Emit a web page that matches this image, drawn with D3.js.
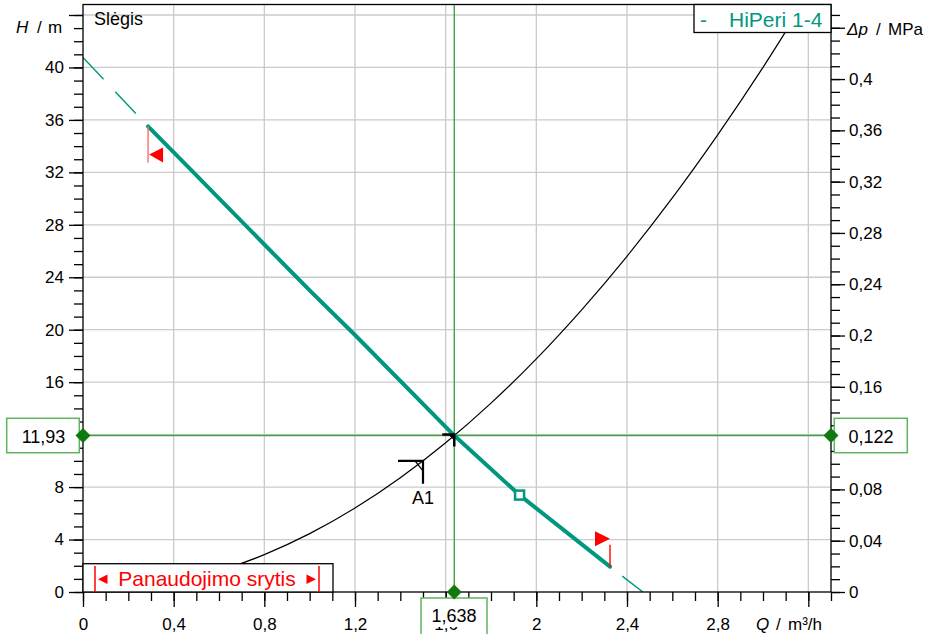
<!DOCTYPE html>
<html>
<head>
<meta charset="utf-8">
<script src="https://cdn.jsdelivr.net/npm/d3@7/dist/d3.min.js"></script>
<style>
  html, body { margin: 0; padding: 0; background: #fff; }
  svg { display: block; font-family: "Liberation Sans", Arial, sans-serif; }
</style>
</head>
<body>
<svg id="chart" width="929" height="634"></svg>
<script>
// Pump curve (Q in m³/h, H in m), solid working range
const pumpQ = [0.287, 0.47, 0.8, 1.0, 1.2, 1.638, 1.926, 2.325];
const pumpH = [35.5, 32.3, 26.5, 23.0, 19.6, 11.93, 7.39, 1.93];
// Dashed continuation outside the working range
const pumpLeftQ = [0, 0.287];
const pumpLeftH = [40.76, 35.5];
const pumpRightQ = [2.325, 2.47];
const pumpRightH = [1.93, 0];

// System (pipe network) curve
const systemQ = [0, 0.2, 0.4, 0.6, 0.8, 1.0, 1.2, 1.4, 1.6, 1.8, 2.0, 2.2, 2.4, 2.6, 2.8, 3.0, 3.17];
const systemH = [0, 0.18, 0.71, 1.6, 2.85, 4.45, 6.4, 8.71, 11.38, 14.4, 17.78, 21.52, 25.6, 30.05, 34.86, 40.01, 44.68];

// Operating point and markers
const opQ = 1.638, opH = 11.93, opP = 0.122;
const a1Q = 1.5, a1H = 10.0;
const squareQ = 1.926, squareH = 7.39;

// Axes
const qLimits = [0, 3.3];
const hLimits = [0, 44.8];
const qTicks = [0, 0.4, 0.8, 1.2, 1.6, 2, 2.4, 2.8, 3.2];
const qTickLabels = ["0", "0,4", "0,8", "1,2", "1,6", "2", "2,4", "2,8", ""];
const hTicks = [0, 4, 8, 12, 16, 20, 24, 28, 32, 36, 40, 44];
const hTickLabels = ["0", "4", "8", "", "16", "20", "24", "28", "32", "36", "40", ""];
const pTicks = [0, 0.04, 0.08, 0.12, 0.16, 0.2, 0.24, 0.28, 0.32, 0.36, 0.4, 0.44];
const pTickLabels = ["0", "0,04", "0,08", "", "0,16", "0,2", "0,24", "0,28", "0,32", "0,36", "0,4", ""];

const teal = "#00977f";
const green = "#43a343";
const darkGreen = "#0f780f";
const red = "#ff0000";
const grid = "#cbcbcb";

const L = 83, R = 831, T = 4.5, B = 592;
const svg = d3.select("#chart");

const x = d3.scaleLinear().domain(qLimits).range([L, R]);
const y = d3.scaleLinear().domain(hLimits).range([B, T]);
// pressure scale follows head via the fluid density (opP / opH MPa per m)
const p = d3.scaleLinear().domain([0, hLimits[1] * opP / opH]).range([B, T]);

svg.append("defs").append("clipPath").attr("id", "plot")
  .append("rect").attr("x", L).attr("y", T).attr("width", R - L).attr("height", B - T);

// Grid
const g = svg.append("g").attr("stroke", grid).attr("stroke-width", 1.3);
qTicks.filter(v => v > 0).forEach(v => g.append("line").attr("x1", x(v)).attr("x2", x(v)).attr("y1", T).attr("y2", B));
hTicks.filter(v => v > 0).forEach(v => g.append("line").attr("x1", L).attr("x2", R).attr("y1", y(v)).attr("y2", y(v)));

const plot = svg.append("g").attr("clip-path", "url(#plot)");
const line = d3.line().x(d => x(d[0])).y(d => y(d[1]));

// System curve
plot.append("path")
  .attr("d", line.curve(d3.curveMonotoneX)(systemQ.map((q, i) => [q, systemH[i]])))
  .attr("fill", "none").attr("stroke", "#000").attr("stroke-width", 1.2);
line.curve(d3.curveLinear);

// Operating point cross lines
plot.append("line").attr("x1", x(opQ)).attr("x2", x(opQ)).attr("y1", T).attr("y2", B)
  .attr("stroke", green).attr("stroke-width", 1.4);
plot.append("line").attr("x1", L).attr("x2", R).attr("y1", y(opH)).attr("y2", y(opH))
  .attr("stroke", green).attr("stroke-width", 1.4);

// Pump curve extensions
plot.append("path").attr("d", line(pumpLeftQ.map((q, i) => [q, pumpLeftH[i]])))
  .attr("fill", "none").attr("stroke", teal).attr("stroke-width", 1.4).attr("stroke-dasharray", "30,17");
plot.append("path").attr("d", line(pumpRightQ.map((q, i) => [q, pumpRightH[i]])))
  .attr("fill", "none").attr("stroke", teal).attr("stroke-width", 1.4).attr("stroke-dasharray", "0,15.5,26,100");

// Pump curve
plot.append("path").attr("d", line(pumpQ.map((q, i) => [q, pumpH[i]])))
  .attr("fill", "none").attr("stroke", teal).attr("stroke-width", 4)
  .attr("stroke-linecap", "round").attr("stroke-linejoin", "round");

// Frame
svg.append("rect").attr("x", L).attr("y", T).attr("width", R - L).attr("height", B - T)
  .attr("fill", "none").attr("stroke", "#000").attr("stroke-width", 1.3);

// Axes
function styleAxis(sel) {
  sel.select(".domain").remove();
  sel.selectAll("line").attr("stroke", "#000").attr("stroke-width", 1.3);
  sel.selectAll("text").attr("font-size", 17).attr("fill", "#000")
    .attr("font-family", "'Liberation Sans', Arial, sans-serif");
}
const fmt = (vals, labels) => (d => labels[vals.indexOf(d)] ?? "");

svg.append("g").attr("transform", `translate(${L},0)`)
  .call(d3.axisLeft(y).tickValues(d3.range(0, 45)).tickSize(9).tickFormat(""))
  .call(styleAxis);
svg.append("g").attr("transform", `translate(${L},0)`)
  .call(d3.axisLeft(y).tickValues(hTicks).tickSize(14).tickPadding(5).tickFormat(fmt(hTicks, hTickLabels)))
  .call(styleAxis);

svg.append("g").attr("transform", `translate(${R},0)`)
  .call(d3.axisRight(p).tickValues(d3.range(0, 46).map(i => i / 100)).tickSize(9).tickFormat(""))
  .call(styleAxis);
svg.append("g").attr("transform", `translate(${R},0)`)
  .call(d3.axisRight(p).tickValues(pTicks).tickSize(14).tickPadding(4).tickFormat(fmt(pTicks, pTickLabels)))
  .call(styleAxis);

svg.append("g").attr("transform", `translate(0,${B})`)
  .call(d3.axisBottom(x).tickValues(d3.range(0, 34).map(i => i / 10)).tickSize(9).tickFormat(""))
  .call(styleAxis);
svg.append("g").attr("transform", `translate(0,${B})`)
  .call(d3.axisBottom(x).tickValues(qTicks).tickSize(15).tickPadding(11).tickFormat(fmt(qTicks, qTickLabels)))
  .call(styleAxis);

// Axis titles
const hTitle = svg.append("text").attr("x", 16).attr("y", 33).attr("font-size", 17);
hTitle.append("tspan").attr("font-style", "italic").text("H");
hTitle.append("tspan").attr("x", 37).text("/");
hTitle.append("tspan").attr("x", 48).text("m");

const pTitle = svg.append("text").attr("x", 847).attr("y", 35).attr("font-size", 17);
pTitle.append("tspan").attr("font-style", "italic").text("Δp");
pTitle.append("tspan").attr("x", 876).text("/");
pTitle.append("tspan").attr("x", 888).text("MPa");

const qTitle = svg.append("text").attr("x", 756).attr("y", 630).attr("font-size", 17);
qTitle.append("tspan").attr("font-style", "italic").text("Q");
qTitle.append("tspan").attr("x", 776).text("/");
qTitle.append("tspan").attr("x", 788).text("m³/h");

svg.append("text").attr("x", 94).attr("y", 25).attr("font-size", 18).text("Slėgis");

// Legend
svg.append("rect").attr("x", 694).attr("y", T).attr("width", R - 694).attr("height", 28)
  .attr("fill", "#fff").attr("stroke", "#000").attr("stroke-width", 1.3);
svg.append("text").attr("x", 700).attr("y", 27).attr("font-size", 21).attr("fill", teal).text("-");
svg.append("text").attr("x", 729).attr("y", 27).attr("font-size", 21).attr("fill", teal).text("HiPeri 1-4");

// Operating range box
svg.append("rect").attr("x", L).attr("y", 563.7).attr("width", 250).attr("height", B - 563.7)
  .attr("fill", "#fff").attr("stroke", "#000").attr("stroke-width", 1.3);
svg.append("line").attr("x1", 95).attr("x2", 95).attr("y1", 566).attr("y2", B).attr("stroke", red).attr("stroke-width", 1.5);
svg.append("line").attr("x1", 319).attr("x2", 319).attr("y1", 566).attr("y2", B).attr("stroke", red).attr("stroke-width", 1.5);
svg.append("path").attr("d", "M98,579.3L107.5,574.5L107.5,584.1Z").attr("fill", red);
svg.append("path").attr("d", "M316,579.3L306.5,574.5L306.5,584.1Z").attr("fill", red);
svg.append("text").attr("x", 207).attr("y", 586).attr("text-anchor", "middle")
  .attr("font-size", 21).attr("fill", red).text("Panaudojimo srytis");

// Range limit flags on the pump curve
const sx = x(pumpQ[0]), sy = y(pumpH[0]);
svg.append("line").attr("x1", sx).attr("x2", sx).attr("y1", sy).attr("y2", sy + 36)
  .attr("stroke", "#ff6a6a").attr("stroke-width", 1.4);
svg.append("path").attr("d", `M${sx + 1},${sy + 28}L${sx + 15},${sy + 21}L${sx + 15},${sy + 36}Z`).attr("fill", red);
const ex = x(pumpQ[pumpQ.length - 1]), ey = y(pumpH[pumpH.length - 1]);
svg.append("line").attr("x1", ex).attr("x2", ex).attr("y1", ey - 22).attr("y2", ey)
  .attr("stroke", red).attr("stroke-width", 1.4);
svg.append("path").attr("d", `M${ex},${ey - 28}L${ex - 15},${ey - 35.5}L${ex - 15},${ey - 20.5}Z`).attr("fill", red);

// Square marker on the pump curve
svg.append("rect").attr("x", x(squareQ) - 4.5).attr("y", y(squareH) - 4.5).attr("width", 9).attr("height", 9)
  .attr("fill", "#fff").attr("stroke", teal).attr("stroke-width", 2.5);

// A1 marker on the system curve
const ax = x(a1Q), ay = y(a1H);
svg.append("path").attr("d", `M${ax - 25},${ay}H${ax}V${ay + 23}`)
  .attr("fill", "none").attr("stroke", "#000").attr("stroke-width", 2.2);
svg.append("path").attr("d", `M${ax - 8},${ay}L${ax},${ay + 10}`)
  .attr("fill", "none").attr("stroke", "#000").attr("stroke-width", 1.3);
svg.append("text").attr("x", ax).attr("y", ay + 43).attr("text-anchor", "middle").attr("font-size", 18).text("A1");

// Operating point marker
const ox = x(opQ), oy = y(opH);
svg.append("path").attr("d", `M${ox - 12},${oy - 1}H${ox}V${oy + 11}`)
  .attr("fill", "none").attr("stroke", "#000").attr("stroke-width", 2.5);
svg.append("path").attr("d", `M${ox - 6},${oy - 1}L${ox},${oy - 1}L${ox},${oy + 5}Z`).attr("fill", "#000");

// Value boxes
function valueBox(x0, y0, w, h, label, cx, cy) {
  svg.append("rect").attr("x", x0).attr("y", y0).attr("width", w).attr("height", h)
    .attr("fill", "#fff").attr("stroke", "#5fb45f").attr("stroke-width", 1.5);
  svg.append("text").attr("x", cx).attr("y", cy).attr("text-anchor", "middle")
    .attr("font-size", 18).text(label);
}
valueBox(6.7, 418.3, 72.6, 34.4, String(opH).replace(".", ","), 43.5, 442.5);
valueBox(834.3, 418.3, 73, 34.4, String(opP).replace(".", ","), 871, 442.5);

// Q value box (open at the bottom edge)
svg.append("rect").attr("x", 421).attr("y", 598).attr("width", 66).attr("height", 29).attr("fill", "#fff");
svg.append("path").attr("d", "M421,640V598H487V640").attr("fill", "none").attr("stroke", "#5fb45f").attr("stroke-width", 1.5);
svg.append("text").attr("x", 454).attr("y", 622).attr("text-anchor", "middle").attr("font-size", 18)
  .text(String(opQ).replace(".", ","));

// Operating point diamonds on the axes (drawn over the value boxes)
[[L, oy], [R, oy], [ox, B]].forEach(([dx, dy]) => {
  svg.append("path").attr("d", `M${dx - 7.5},${dy}L${dx},${dy - 7.5}L${dx + 7.5},${dy}L${dx},${dy + 7.5}Z`)
    .attr("fill", darkGreen);
});
</script>
</body>
</html>
